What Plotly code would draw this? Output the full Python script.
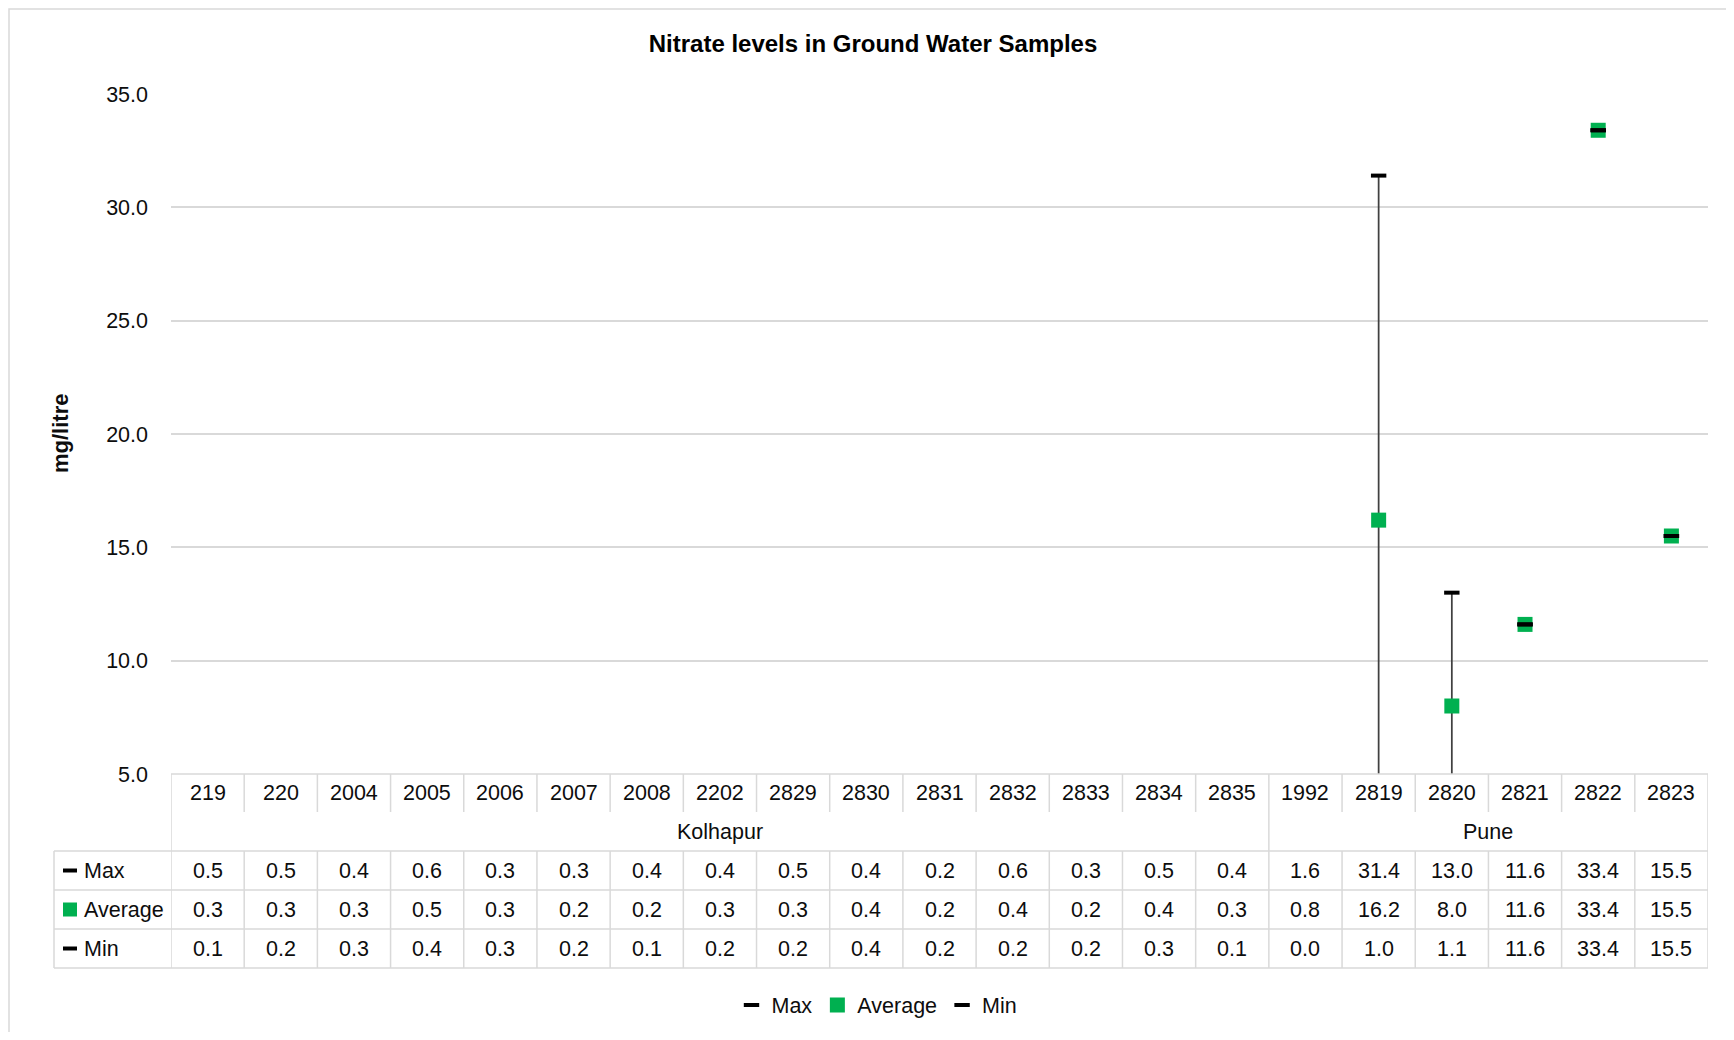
import plotly.graph_objects as go

# ---------------- data ----------------
categories = ["219", "220", "2004", "2005", "2006", "2007", "2008", "2202", "2829", "2830",
              "2831", "2832", "2833", "2834", "2835", "1992", "2819", "2820", "2821", "2822", "2823"]
group_names = ["Kolhapur", "Pune"]
group_sizes = [15, 6]
max_vals = [0.5, 0.5, 0.4, 0.6, 0.3, 0.3, 0.4, 0.4, 0.5, 0.4, 0.2, 0.6, 0.3, 0.5, 0.4,
            1.6, 31.4, 13.0, 11.6, 33.4, 15.5]
avg_vals = [0.3, 0.3, 0.3, 0.5, 0.3, 0.2, 0.2, 0.3, 0.3, 0.4, 0.2, 0.4, 0.2, 0.4, 0.3,
            0.8, 16.2, 8.0, 11.6, 33.4, 15.5]
min_vals = [0.1, 0.2, 0.3, 0.4, 0.3, 0.2, 0.1, 0.2, 0.2, 0.4, 0.2, 0.2, 0.2, 0.3, 0.1,
            0.0, 1.0, 1.1, 11.6, 33.4, 15.5]
y_ticks = [5, 10, 15, 20, 25, 30, 35]
row_names = ["Max", "Average", "Min"]

# ---------------- style / geometry (page pixels) ----------------
OFF = 8                      # default page body margin
W, H = 1734 - 2 * OFF, 1040 - 2 * OFF
L, R, T, B = 171, 1708, 94, 774
FONT = "Liberation Sans, Arial, sans-serif"
TXT = "#0D0D0D"
GRID = "#D9D9D9"
GREEN = "#00B050"
FS = 21.5

def fx(px):
    return (px - L) / (R - L)

def fy(py):
    return (B - py) / (B - T)

row_edges = [774, 812, 851, 890, 929, 968]
key_left = 54
n = len(categories)
xs = list(range(n))

fig = go.Figure()

# high-low lines
hx, hy = [], []
for i in xs:
    hx += [i, i, None]
    hy += [min_vals[i], max_vals[i], None]
fig.add_trace(go.Scatter(x=hx, y=hy, mode="lines", line=dict(color="#404040", width=1.75),
                         showlegend=False, hoverinfo="skip"))

fig.add_trace(go.Scatter(x=xs, y=avg_vals, mode="markers", name="Average", legendrank=2,
                         marker=dict(symbol="square", size=15, color=GREEN, line=dict(width=0))))
fig.add_trace(go.Scatter(x=xs, y=max_vals, mode="markers", name="Max", legendrank=1,
                         marker=dict(symbol="line-ew", size=11, color="black",
                                     line=dict(color="black", width=4))))
fig.add_trace(go.Scatter(x=xs, y=min_vals, mode="markers", name="Min", legendrank=3,
                         marker=dict(symbol="line-ew", size=11, color="black",
                                     line=dict(color="black", width=4))))

shapes = []
def hline(x0, x1, py, xref="paper"):
    shapes.append(dict(type="line", xref=xref, yref="paper", x0=x0, x1=x1, y0=fy(py), y1=fy(py),
                       line=dict(color=GRID, width=1.5), layer="above"))

def vline(x, py0, py1, xref="x"):
    shapes.append(dict(type="line", xref=xref, yref="paper", x0=x, x1=x, y0=fy(py0), y1=fy(py1),
                       line=dict(color=GRID, width=1.5), layer="above"))

# horizontal table lines
hline(0, 1, row_edges[0])
for py in row_edges[2:]:
    hline(fx(key_left), 1, py)

# vertical lines
vline(-0.5, row_edges[0], row_edges[-1])
vline(n - 0.5, row_edges[0], row_edges[-1])
vline(fx(key_left), row_edges[2], row_edges[-1], xref="paper")
bounds = []
acc = 0
for s in group_sizes[:-1]:
    acc += s
    bounds.append(acc - 0.5)
for b in bounds:
    vline(b, row_edges[0], row_edges[-1])
for i in range(1, n):
    xb = i - 0.5
    if xb in bounds:
        continue
    vline(xb, row_edges[0], row_edges[1])
    vline(xb, row_edges[2], row_edges[-1])

# chart border
shapes.append(dict(type="rect", xref="paper", yref="paper", x0=fx(9), x1=fx(1760), y0=fy(9), y1=fy(1060),
                   line=dict(color=GRID, width=1.5), fillcolor="rgba(0,0,0,0)", layer="below"))

annotations = []
def ann(x, py, text, xref="x", xanchor="center", size=FS):
    annotations.append(dict(x=x, y=fy(py), xref=xref, yref="paper", text=text, showarrow=False,
                            xanchor=xanchor, yanchor="middle",
                            font=dict(family=FONT, size=size, color=TXT)))

cat_y = (row_edges[0] + row_edges[1]) / 2
grp_y = (row_edges[1] + row_edges[2]) / 2
for i, c in enumerate(categories):
    ann(i, cat_y, c)
start = 0
for g, s in zip(group_names, group_sizes):
    ann(start + (s - 1) / 2, grp_y, g)
    start += s

row_vals = [max_vals, avg_vals, min_vals]
for r, (name, vals) in enumerate(zip(row_names, row_vals)):
    cy = (row_edges[2 + r] + row_edges[3 + r]) / 2
    for i, v in enumerate(vals):
        ann(i, cy, f"{v:.1f}")
    ann(fx(82), cy, name, xref="paper", xanchor="left")
    if name == "Average":
        shapes.append(dict(type="rect", xref="paper", yref="paper", x0=fx(63), x1=fx(77),
                           y0=fy(cy - 7), y1=fy(cy + 7), fillcolor=GREEN, line=dict(width=0)))
    else:
        shapes.append(dict(type="line", xref="paper", yref="paper", x0=fx(63), x1=fx(77),
                           y0=fy(cy), y1=fy(cy), line=dict(color="black", width=4)))

# y-axis title
annotations.append(dict(x=fx(60), y=fy(433), xref="paper", yref="paper", text="<b>mg/litre</b>",
                        showarrow=False, textangle=-90, xanchor="center", yanchor="middle",
                        font=dict(family=FONT, size=22, color=TXT)))

fig.update_layout(
    width=W, height=H,
    margin=dict(l=L - OFF, r=OFF + W - R, t=T - OFF, b=OFF + H - B, autoexpand=False),
    paper_bgcolor="white", plot_bgcolor="white",
    title=dict(text="<b>Nitrate levels in Ground Water Samples</b>", x=(873 - OFF) / W, xanchor="center",
               y=1 - (44 - OFF) / H, yanchor="middle", yref="container",
               font=dict(family=FONT, size=24, color="black")),
    xaxis=dict(range=[-0.5, n - 0.5], showticklabels=False, showgrid=False, zeroline=False,
               showline=False, ticks="", fixedrange=True),
    yaxis=dict(range=[5, 35], tickvals=y_ticks, tickformat=".1f", showgrid=True, gridcolor=GRID,
               gridwidth=1.5, zeroline=False, showline=False, ticks="", ticklabelstandoff=22,
               tickfont=dict(family=FONT, size=FS, color=TXT)),
    legend=dict(orientation="h", x=fx(877), xanchor="center", y=fy(1005), yanchor="middle",
                font=dict(family=FONT, size=FS, color=TXT), itemwidth=30, bgcolor="rgba(0,0,0,0)"),
    shapes=shapes, annotations=annotations, showlegend=True,
)

fig.write_html("out.html")
